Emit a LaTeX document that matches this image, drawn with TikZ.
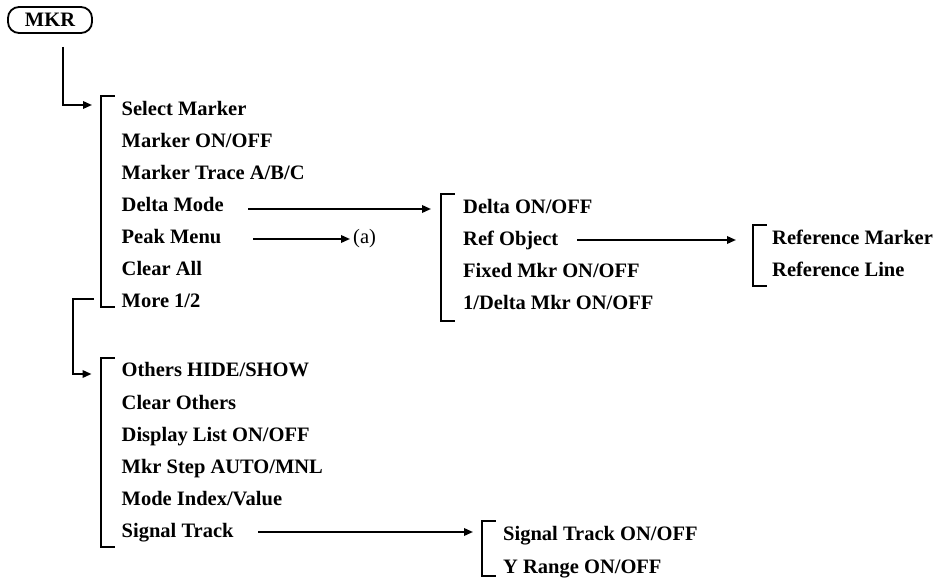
\documentclass[tikz,border=0pt]{standalone}
\usepackage{fontspec}
\setmainfont{Liberation Serif}
\usetikzlibrary{arrows.meta}
\begin{document}
\begin{tikzpicture}[x=1pt,y=-1pt,
  ln/.style={line width=1.8pt,line cap=rect},
  arr/.style={line width=1.8pt,-{Triangle[length=9pt,width=7.5pt]}},
  item/.style={anchor=base west,inner sep=0pt,font=\fontsize{20.5}{24}\selectfont\bfseries},
  note/.style={anchor=base west,inner sep=0pt,font=\fontsize{20.5}{24}\selectfont},
  keybox/.style={draw,line width=1.8pt,rounded corners=11pt,minimum width=84pt,minimum height=26pt,inner sep=0pt,font=\fontsize{20.5}{24}\selectfont\bfseries}]
\useasboundingbox (0,0) rectangle (946,580);
% MKR key
\node[keybox] (mkr) at (50,20) {MKR};
% main menu page 1
\node[item] (m1) at (121.5,115.5) {Select Marker};
\node[item] (m2) at (121.5,147.5) {Marker ON/OFF};
\node[item] (m3) at (121.5,179.5) {Marker Trace A/B/C};
\node[item] (m4) at (121.5,211.5) {Delta Mode};
\node[item] (m5) at (121.5,243.5) {Peak Menu};
\node[item] (m6) at (121.5,275.5) {Clear All};
\node[item] (m7) at (121.5,307.5) {More 1/2};
\draw[ln] (114,96) -- (101,96) -- (101,307) -- (114,307);
% main menu page 2
\node[item] (n1) at (121.5,377) {Others HIDE/SHOW};
\node[item] (n2) at (121.5,409) {Clear Others};
\node[item] (n3) at (121.5,441) {Display List ON/OFF};
\node[item] (n4) at (121.5,473) {Mkr Step AUTO/MNL};
\node[item] (n5) at (121.5,505) {Mode Index/Value};
\node[item] (n6) at (121.5,537) {Signal Track};
\draw[ln] (114,358) -- (101,358) -- (101,547) -- (114,547);
% delta submenu
\node[item] (d1) at (463,213.5) {Delta ON/OFF};
\node[item] (d2) at (463,245.5) {Ref Object};
\node[item] (d3) at (463,277.5) {Fixed Mkr ON/OFF};
\node[item] (d4) at (463,309.5) {1/Delta Mkr ON/OFF};
\draw[ln] (454,194) -- (441,194) -- (441,321) -- (454,321);
% ref object submenu
\node[item] (r1) at (772,245) {Reference Marker};
\node[item] (r2) at (772,277) {Reference Line};
\draw[ln] (766,225) -- (753,225) -- (753,286) -- (766,286);
% signal track submenu
\node[item] (s1) at (503,540.5) {Signal Track ON/OFF};
\node[item] (s2) at (503,573) {Y Range ON/OFF};
\draw[ln] (495,521) -- (482,521) -- (482,576) -- (495,576);
% peak menu reference
\node[note] (pa) at (353,244) {(a)};
% connector coordinates
\coordinate (kS) at (63,47);
\coordinate (kC) at (63,105);
\coordinate (kT) at (92,105);
\coordinate (mS) at (94,299);
\coordinate (mC1) at (73,299);
\coordinate (mC2) at (73,374);
\coordinate (mT) at (91.5,374);
\coordinate (dS) at (248,209);
\coordinate (dT) at (431,209);
\coordinate (pS) at (253,239);
\coordinate (pT) at (350,239);
\coordinate (rS) at (577,240);
\coordinate (rT) at (736,240);
\coordinate (sS) at (258,532);
\coordinate (sT) at (473,532);
% connectors
\draw[arr] (kS) -- (kC) -- (kT);
\draw[arr] (mS) -- (mC1) -- (mC2) -- (mT);
\draw[arr] (dS) -- (dT);
\draw[arr] (pS) -- (pT);
\draw[arr] (rS) -- (rT);
\draw[arr] (sS) -- (sT);
\end{tikzpicture}
\end{document}
